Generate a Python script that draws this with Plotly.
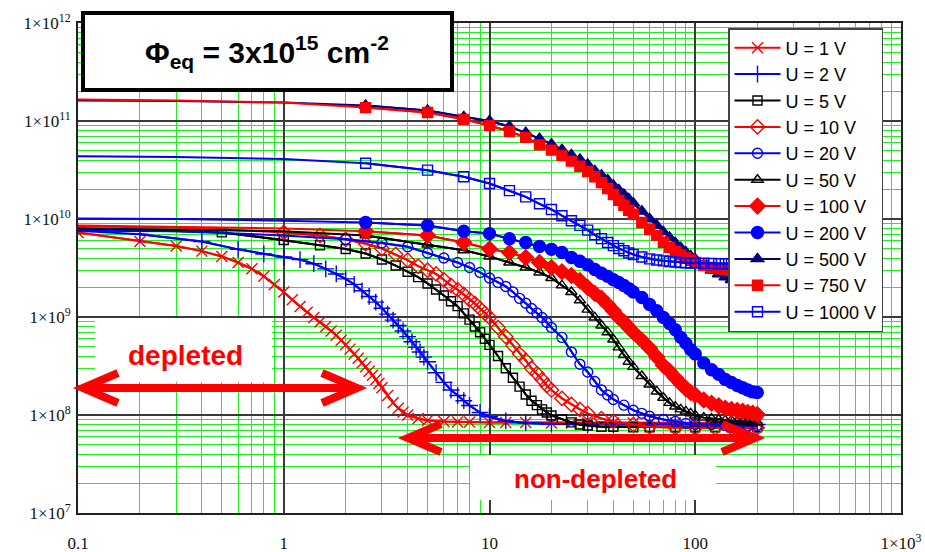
import plotly.graph_objects as go

# ---------------- signal vs. time (ns) for each bias voltage ----------------
t_1V = [0.1, 0.2, 0.3, 0.4, 0.5, 0.6, 0.7, 0.8, 0.9, 1.0,
        1.1, 1.2, 1.3, 1.4, 1.5, 1.6, 1.7, 1.8, 1.9, 2.0,
        2.1, 2.2, 2.3, 2.4, 2.5, 2.6, 2.7, 2.8, 2.9, 3.0,
        3.2, 3.4, 3.6, 3.8, 4.0, 4.5, 5, 6, 7, 8, 10, 12, 15, 20, 25, 30,
        40, 50, 60, 80, 100, 125, 150, 175, 200]
s_1V = [7.3e9, 5.9e9, 5.3e9, 4.7e9, 4.15e9, 3.6e9, 3.1e9, 2.6e9, 2.15e9, 1.8e9,
        1.5e9, 1.28e9, 1.12e9, 9.9e8, 8.9e8, 8.0e8, 7.2e8, 6.5e8, 5.8e8, 5.2e8,
        4.7e8, 4.2e8, 3.8e8, 3.4e8, 3.1e8, 2.8e8, 2.55e8, 2.3e8, 2.1e8, 1.9e8,
        1.58e8, 1.33e8, 1.17e8, 1.07e8, 1.0e8, 9.2e7, 8.8e7, 8.6e7, 8.5e7, 8.5e7,
        8.4e7, 8.4e7, 8.4e7, 8.3e7, 8.3e7, 8.3e7, 8.3e7, 8.3e7, 8.3e7, 8.3e7,
        8.3e7, 8.3e7, 8.3e7, 8.3e7, 8.3e7]

t_2V = [0.1, 0.2, 0.4, 0.6, 0.8, 1.0, 1.2, 1.4, 1.6, 1.8, 2.0, 2.2, 2.4, 2.6,
        2.8, 3.0, 3.2, 3.4, 3.6, 3.8, 4.0, 4.2, 4.4, 4.6, 4.8, 5.0,
        5.5, 6, 6.5, 7, 7.5, 8, 9, 10, 12, 15, 20, 30, 40, 60, 80, 100, 150, 200]
s_2V = [7.6e9, 7.0e9, 5.9e9, 4.9e9, 4.4e9, 4.1e9, 3.85e9, 3.5e9, 3.1e9, 2.75e9,
        2.45e9, 2.15e9, 1.85e9, 1.62e9, 1.42e9, 1.23e9, 1.07e9, 9.3e8, 8.2e8,
        7.2e8, 6.3e8, 5.6e8, 4.9e8, 4.4e8, 3.9e8, 3.5e8,
        2.7e8, 2.15e8, 1.8e8, 1.58e8, 1.4e8, 1.25e8, 1.06e8, 9.6e7, 8.7e7, 8.3e7,
        8.1e7, 8.0e7, 8.0e7, 8.0e7, 8.0e7, 8.0e7, 8.0e7, 8.0e7]

t_5V = [0.1, 0.5, 1.0, 1.5, 2.0, 2.5, 3.0, 3.5, 4.0, 4.5, 5.0, 5.5, 6.0, 6.5,
        7.0, 7.5, 8.0, 8.5, 9.0, 9.5, 10, 11, 12, 13, 14, 15, 16, 17, 18, 19,
        20, 22.5, 25, 27.5, 30, 35, 40, 50, 60, 80, 100, 125, 150, 175, 200]
s_5V = [8.0e9, 7.3e9, 6.1e9, 5.4e9, 4.95e9, 4.45e9, 3.86e9, 3.35e9, 2.9e9,
        2.55e9, 2.2e9, 1.91e9, 1.66e9, 1.45e9, 1.29e9, 1.09e9, 9.4e8, 8.0e8,
        7.0e8, 6.0e8, 5.2e8, 4.0e8, 3.0e8, 2.4e8, 1.95e8, 1.62e8, 1.4e8, 1.26e8,
        1.14e8, 1.06e8, 9.9e7, 9.0e7, 8.4e7, 8.0e7, 7.8e7, 7.6e7, 7.6e7, 7.5e7,
        7.5e7, 7.5e7, 7.5e7, 7.5e7, 7.5e7, 7.5e7, 7.5e7]

t_10V = [0.1, 0.3, 1.0, 1.5, 2.0, 2.5, 3.0, 3.5, 4.0, 4.5, 5.0, 5.5, 6.0, 6.5,
         7.0, 7.5, 8.0, 8.5, 9.0, 9.5, 10, 11, 12, 13, 14, 15, 16, 17, 18, 19,
         20, 22.5, 25, 27.5, 30, 35, 40, 50, 60, 80, 100, 125, 150, 175, 200]
s_10V = [8.4e9, 8.2e9, 7.3e9, 6.8e9, 6.2e9, 5.6e9, 5.0e9, 4.35e9, 3.8e9, 3.3e9,
         3.0e9, 2.75e9, 2.4e9, 2.1e9, 1.9e9, 1.7e9, 1.5e9, 1.37e9, 1.22e9,
         1.09e9, 9.9e8, 7.8e8, 6.3e8, 5.1e8, 4.2e8, 3.6e8, 3.0e8, 2.65e8, 2.3e8,
         2.0e8, 1.8e8, 1.48e8, 1.28e8, 1.14e8, 1.04e8, 9.2e7, 8.6e7, 8.0e7,
         7.6e7, 7.4e7, 7.4e7, 7.4e7, 7.4e7, 7.4e7, 7.4e7]

t_20V = [0.1, 0.3, 1, 2, 3, 4, 5, 6, 7, 8, 9, 10, 11, 12, 13, 14, 15, 16, 17,
         18, 19, 20, 22.5, 25, 27.5, 30, 32.5, 35, 37.5, 40, 45, 50, 55, 60, 70,
         80, 90, 100, 120, 140, 160, 180, 200]
s_20V = [7.6e9, 7.5e9, 6.8e9, 6.2e9, 5.7e9, 5.2e9, 4.5e9, 4.0e9, 3.6e9, 3.2e9,
         2.85e9, 2.5e9, 2.25e9, 2.05e9, 1.8e9, 1.55e9, 1.38e9, 1.22e9, 1.1e9,
         9.9e8, 8.8e8, 7.8e8, 6.2e8, 4.4e8, 3.3e8, 2.75e8, 2.2e8, 1.8e8, 1.6e8,
         1.44e8, 1.26e8, 1.12e8, 1.04e8, 9.7e7, 9.0e7, 8.6e7, 8.2e7, 8.0e7,
         8.0e7, 7.8e7, 7.8e7, 7.8e7, 7.8e7]

# common time grid of the high-voltage runs
t_hv = [0.1, 0.3, 1, 2.5, 5, 7.5, 10, 12.5, 15, 17.5, 20, 22.5, 25, 27.5, 30,
        32.5, 35, 37.5, 40, 42.5, 45, 47.5, 50, 55, 60, 65, 70, 75, 80, 85,
        90, 95, 100, 110, 120, 130, 140, 150, 160, 170, 180, 190, 200]

s_50V = [8.0e9, 7.8e9, 7.5e9, 6.8e9, 5.5e9, 4.8e9, 4.15e9, 3.6e9, 3.2e9,
         2.85e9, 2.5e9, 2.1e9, 1.8e9, 1.48e9, 1.19e9, 9.9e8, 8.2e8, 7.0e8,
         5.9e8, 4.9e8, 4.1e8, 3.5e8, 3.1e8, 2.5e8, 2.05e8, 1.74e8, 1.5e8,
         1.33e8, 1.22e8, 1.14e8, 1.09e8, 1.04e8, 9.9e7, 9.4e7, 9.2e7, 9.0e7,
         8.8e7, 8.8e7, 8.6e7, 8.6e7, 8.4e7, 8.4e7, 8.4e7]

s_100V = [8.6e9, 8.3e9, 8.0e9, 7.5e9, 6.8e9, 5.75e9, 4.95e9, 4.55e9, 4.05e9,
          3.6e9, 3.2e9, 2.9e9, 2.65e9, 2.35e9, 2.0e9, 1.74e9, 1.55e9, 1.34e9,
          1.16e9, 9.9e8, 8.9e8, 7.8e8, 7.0e8, 5.8e8, 4.8e8, 3.9e8, 3.2e8,
          2.8e8, 2.4e8, 2.1e8, 1.86e8, 1.7e8, 1.6e8, 1.42e8, 1.32e8, 1.24e8,
          1.17e8, 1.14e8, 1.11e8, 1.09e8, 1.06e8, 1.04e8, 1.01e8]

s_200V = [1.01e10, 1.0e10, 9.6e9, 9.2e9, 8.6e9, 7.5e9, 7.1e9, 6.3e9, 5.75e9,
          5.25e9, 4.9e9, 4.55e9, 4.05e9, 3.7e9, 3.4e9, 3.05e9, 2.8e9, 2.6e9,
          2.4e9, 2.25e9, 2.1e9, 1.95e9, 1.8e9, 1.58e9, 1.34e9, 1.16e9, 9.9e8,
          8.6e8, 7.4e8, 6.2e8, 5.4e8, 4.65e8, 4.2e8, 3.4e8, 2.9e8, 2.6e8,
          2.3e8, 2.15e8, 2.0e8, 1.9e8, 1.8e8, 1.72e8, 1.7e8]

s_500V = [1.62e11, 1.6e11, 1.54e11, 1.44e11, 1.28e11, 1.1e11, 1.0e11, 8.8e10,
          7.6e10, 6.6e10, 5.8e10, 5.1e10, 4.5e10, 4.05e10, 3.6e10, 3.1e10,
          2.8e10, 2.5e10, 2.2e10, 1.98e10, 1.78e10, 1.6e10, 1.45e10, 1.2e10,
          1.0e10, 8.6e9, 7.4e9, 6.5e9, 5.7e9, 5.1e9, 4.6e9, 4.2e9, 3.9e9,
          3.4e9, 3.0e9, 2.75e9, 2.55e9, 2.4e9, 2.25e9, 2.15e9, 2.05e9, 1.97e9,
          1.9e9]

s_750V = [1.66e11, 1.62e11, 1.54e11, 1.37e11, 1.22e11, 1.04e11, 9.0e10, 7.8e10,
          6.8e10, 5.7e10, 5.05e10, 4.45e10, 3.9e10, 3.45e10, 3.05e10, 2.7e10,
          2.35e10, 2.05e10, 1.78e10, 1.55e10, 1.38e10, 1.23e10, 1.12e10, 9.2e9,
          7.8e9, 6.8e9, 5.8e9, 5.15e9, 4.65e9, 4.3e9, 4.0e9, 3.8e9, 3.6e9,
          3.35e9, 3.2e9, 3.1e9, 3.05e9, 3.0e9, 3.0e9, 3.0e9, 2.98e9, 2.97e9,
          2.95e9]

s_1000V = [4.37e10, 4.3e10, 4.1e10, 3.7e10, 3.15e10, 2.7e10, 2.3e10, 1.95e10,
           1.68e10, 1.43e10, 1.25e10, 1.08e10, 9.6e9, 8.6e9, 7.7e9, 6.9e9,
           6.3e9, 5.75e9, 5.35e9, 5.0e9, 4.75e9, 4.5e9, 4.35e9, 4.1e9, 3.92e9,
           3.82e9, 3.74e9, 3.68e9, 3.64e9, 3.6e9, 3.58e9, 3.56e9, 3.55e9,
           3.53e9, 3.52e9, 3.5e9, 3.5e9, 3.5e9, 3.5e9, 3.5e9, 3.5e9, 3.5e9,
           3.5e9]

labels = ["U = 1 V", "U = 2 V", "U = 5 V", "U = 10 V", "U = 20 V", "U = 50 V",
          "U = 100 V", "U = 200 V", "U = 500 V", "U = 750 V", "U = 1000 V"]

x_ticks = [0.1, 1, 10, 100, 1000]
x_ticktext = ["0.1", "1", "10", "100", "1×10<sup>3</sup>"]
y_ticks = [1e7, 1e8, 1e9, 1e10, 1e11, 1e12]
y_ticktext = ["1×10<sup>7</sup>", "1×10<sup>8</sup>", "1×10<sup>9</sup>",
              "1×10<sup>10</sup>", "1×10<sup>11</sup>", "1×10<sup>12</sup>"]

# (time, signal, colour, marker symbol, marker size, first marked time)
series = [
    (t_1V, s_1V, "#ff0000", "x-thin", 11, 0.1),
    (t_2V, s_2V, "#0000ff", "cross-thin", 12, 0.2),
    (t_5V, s_5V, "#000000", "square-open", 9, 0.5),
    (t_10V, s_10V, "#ff0000", "diamond-open", 11, 1.0),
    (t_20V, s_20V, "#0000ff", "circle-open", 10, 2.0),
    (t_hv, s_50V, "#000000", "triangle-up-open", 10, 2.5),
    (t_hv, s_100V, "#ff0000", "diamond", 12, 2.5),
    (t_hv, s_200V, "#0000ff", "circle", 12, 2.5),
    (t_hv, s_500V, "#000080", "triangle-up", 11, 2.5),
    (t_hv, s_750V, "#ff0000", "square", 10, 2.5),
    (t_hv, s_1000V, "#0000ff", "square-open", 10, 2.5),
]

fig = go.Figure()
for label, (t, s, col, sym, size, t_mark) in zip(labels, series):
    # full curve as a plain line
    fig.add_trace(go.Scatter(
        x=t, y=s, mode="lines", line=dict(color=col, width=2),
        legendgroup=label, showlegend=False, hoverinfo="skip"))
    # markers on the sampled part of the curve
    tm = [ti for ti in t if ti >= t_mark]
    sm = [si for ti, si in zip(t, s) if ti >= t_mark]
    fig.add_trace(go.Scatter(
        x=tm, y=sm, mode="lines+markers", name=label, legendgroup=label,
        line=dict(color=col, width=2),
        marker=dict(symbol=sym, size=size, color=col,
                    line=dict(color=col, width=1.4))))

GREEN = "#22ee22"
MAJOR = "#3a3a3a"
minor_x = [m * 10 ** e for e in range(-1, 3) for m in range(2, 10)]
minor_y = [m * 10 ** e for e in range(7, 12) for m in range(2, 10)]
SERIF = "Liberation Serif, Times New Roman, serif"

fig.update_xaxes(
    type="log", range=[-1, 3], automargin=False,
    tickmode="array", tickvals=x_ticks, ticktext=x_ticktext,
    ticks="", ticklabelstandoff=14,
    tickfont=dict(family=SERIF, size=17, color="#111"),
    showgrid=True, gridcolor=MAJOR, gridwidth=1.5,
    minor=dict(tickvals=minor_x, showgrid=True, gridcolor=GREEN, gridwidth=1.2),
    showline=True, linecolor="#222", linewidth=2, mirror=True, zeroline=False)
fig.update_yaxes(
    type="log", range=[7, 12], automargin=False,
    tickmode="array", tickvals=y_ticks, ticktext=y_ticktext,
    ticks="", ticklabelstandoff=2,
    tickfont=dict(family=SERIF, size=17, color="#111"),
    showgrid=True, gridcolor=MAJOR, gridwidth=1.5,
    minor=dict(tickvals=minor_y, showgrid=True, gridcolor=GREEN, gridwidth=1.2),
    showline=True, linecolor="#222", linewidth=2, mirror=True, zeroline=False)

L, R, T, B = 78, 24, 23, 39
W, H = 925, 552
PW, PH = W - L - R, H - T - B


def px(x):
    return (x - L) / PW


def py(y):
    return (H - B - y) / PH


SANS = "Liberation Sans, Arial, sans-serif"
shapes = [
    # fluence box
    dict(type="rect", xref="paper", yref="paper", x0=px(83), x1=px(452),
         y0=py(90), y1=py(13), line=dict(color="black", width=4),
         fillcolor="white", layer="above"),
    # label boxes
    dict(type="rect", xref="paper", yref="paper", x0=px(95), x1=px(272),
         y0=py(382), y1=py(318), line=dict(width=0), fillcolor="white", layer="above"),
    dict(type="rect", xref="paper", yref="paper", x0=px(470), x1=px(716),
         y0=py(500), y1=py(455), line=dict(width=0), fillcolor="white", layer="above"),
]


def double_arrow(x_left, x_right, y, head_len, head_half):
    p = (f"M{px(x_left + head_len)},{py(y - head_half)} L{px(x_left)},{py(y)} "
         f"L{px(x_left + head_len)},{py(y + head_half)} "
         f"M{px(x_left)},{py(y)} L{px(x_right)},{py(y)} "
         f"M{px(x_right - head_len)},{py(y - head_half)} L{px(x_right)},{py(y)} "
         f"L{px(x_right - head_len)},{py(y + head_half)}")
    return dict(type="path", xref="paper", yref="paper", path=p,
                line=dict(color="#ff0000", width=8), layer="above")


shapes.append(double_arrow(83, 357, 388, 35, 15))
shapes.append(double_arrow(408, 755, 438, 33, 14))

annotations = [
    dict(x=px(267), y=py(52), xref="paper", yref="paper", showarrow=False,
         xanchor="center", yanchor="middle",
         text="<b>Φ<sub>eq</sub> = 3x10<sup>15</sup> cm<sup>-2</sup></b>",
         font=dict(family=SANS, size=30, color="black")),
    dict(x=px(185), y=py(355), xref="paper", yref="paper", showarrow=False,
         xanchor="center", yanchor="middle",
         text="<b>depleted</b>", font=dict(family=SANS, size=28, color="#ff0000")),
    dict(x=px(595), y=py(479), xref="paper", yref="paper", showarrow=False,
         xanchor="center", yanchor="middle",
         text="<b>non-depleted</b>", font=dict(family=SANS, size=26, color="#ff0000")),
]

fig.update_layout(
    width=W, height=H,
    margin=dict(l=L, r=R, t=T, b=B, autoexpand=False),
    paper_bgcolor="white", plot_bgcolor="white",
    shapes=shapes, annotations=annotations,
    legend=dict(x=px(728), y=py(28), xanchor="left", yanchor="top",
                bgcolor="white", bordercolor="#444", borderwidth=1.5,
                font=dict(family=SANS, size=18, color="black"),
                itemwidth=46, traceorder="grouped", tracegroupgap=0),
)

fig.write_html("out.html")
